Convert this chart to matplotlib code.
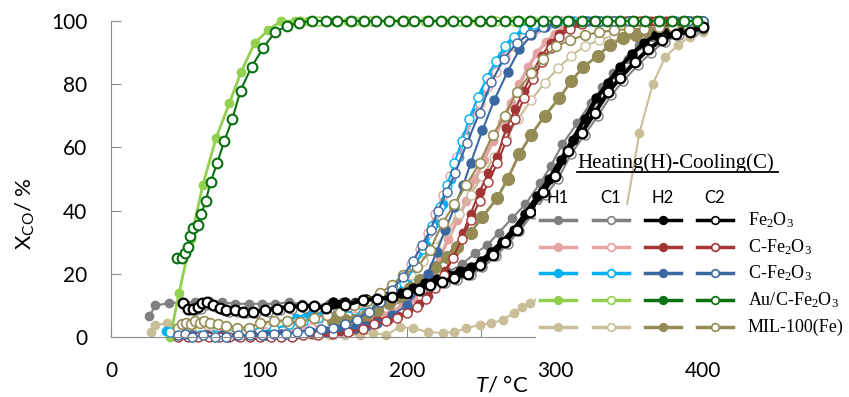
import matplotlib
matplotlib.use('Agg')
import matplotlib.pyplot as plt
from matplotlib.lines import Line2D
from matplotlib.patches import Rectangle

plt.rcParams['font.family'] = ['Lato', 'DejaVu Sans']
plt.rcParams['mathtext.fontset'] = 'custom'
plt.rcParams['mathtext.rm'] = 'Lato'
plt.rcParams['mathtext.it'] = 'Lato:italic'

# ---- Fe2O3 ----
fe_h1_T = [26, 30, 39, 48, 57, 66, 75, 84, 93, 102, 111, 120, 129, 138, 147, 156, 165, 174, 183, 192, 201,
           210, 219, 228, 237, 246, 254, 262, 271, 280, 290, 297, 305, 315, 324, 332, 339, 349, 357, 366,
           374, 382, 391, 400]
fe_h1_X = [6.7, 10, 10.7, 11, 11, 11.5, 11, 10.5, 10.5, 10.5, 10.5, 11, 10.5, 10, 10.5, 11, 11, 11.5, 12,
           13, 14.5, 16, 18, 20.5, 23, 26.5, 29, 33, 37.6, 42, 48.7, 54, 61, 67.7, 74, 79, 83.5, 88, 92.4,
           95, 97, 98.5, 99.5, 100]
fe_c1_T = [50, 54, 57.5, 61, 64, 67, 71, 76, 80, 86, 91, 98, 106, 114, 122, 131, 139, 147, 160, 172, 182,
           192, 202, 210, 217.5, 225.5, 234, 243, 251, 260, 268, 276, 285, 294, 302, 311, 320, 329, 338, 346,
           356, 365, 374, 384, 393, 400]
fe_c1_X = [10, 8.5, 8.5, 9, 10, 10.5, 9.5, 8.5, 8, 8, 7.5, 7.5, 8, 8.5, 9, 9.3, 9.3, 8.7, 9.5, 11, 11.5,
           12, 13.5, 14.5, 16, 17, 18, 19.5, 22, 25.5, 29.5, 33.5, 39, 45, 50, 58, 64, 70, 76.5, 81, 86,
           90, 93.5, 95.5, 96.5, 97.5]
fe_h2_T = [150, 158, 165, 172, 180, 188, 196, 204, 212, 220, 228, 236, 243, 250, 257, 264, 272, 280, 288,
           296, 304, 312, 320, 328, 336, 344, 352, 360, 368, 376, 384, 392, 400]
fe_h2_X = [11, 11, 10.7, 12, 12.5, 13, 14, 15.5, 17, 18.5, 19.5, 21, 22, 24, 27, 30, 34, 39, 44.5, 50, 56,
           62.5, 69, 75.5, 80.5, 85.5, 89.5, 93, 95.5, 97, 97.5, 98, 99]
fe_c2_T = [48.5, 52, 55.6, 59, 61.4, 64.7, 69, 73.6, 78, 84, 89, 96, 104, 112, 120, 129, 137, 145, 158, 170,
           180, 190, 200, 208, 215.5, 223.6, 232, 241, 249, 258, 266, 274, 283, 292, 300, 309, 318, 327, 336,
           344, 354, 363, 372, 382, 391, 400]
fe_c2_X = [10.8, 9, 9, 9.6, 10.7, 11.2, 10, 9.1, 8.5, 8.5, 8, 8, 8.5, 9, 9.6, 9.8, 9.8, 9.1, 10, 11.7, 12,
           12.7, 14, 15, 16.5, 17.4, 18.7, 20, 22.8, 26, 30, 34, 39.6, 46, 51, 59, 64.6, 71, 77.5, 82, 87,
           91, 94, 96, 96.5, 98]

# ---- C-Fe2O3 (red) ----
cr_h1_T = [40, 50, 60, 70, 80, 90, 100, 110, 120, 130, 140, 150, 160, 168, 176, 183, 190, 197, 204, 210,
           216, 222, 228, 234, 240, 246, 252, 258, 264, 270, 276, 282, 288, 294, 300, 306, 313, 322, 332,
           342, 352, 362, 372, 382, 392, 400]
cr_h1_X = [1, 0.5, 0.5, 0.8, 0.5, 0.5, 0.8, 1, 1.5, 2, 2.5, 3, 4, 5, 6, 7, 8, 10, 12.5, 15.5, 20, 25, 31,
           37, 43, 50, 56, 62, 68, 74, 80, 85.5, 90, 93.5, 96, 98, 99.5, 100, 100, 100, 100, 100, 100, 100,
           100, 100]
cr_c1_T = [45, 55, 65, 75, 85, 95, 105, 115, 125, 135, 145, 155, 165, 175, 183, 190, 197, 203, 209, 214,
           219, 224, 229, 234, 239, 244, 249, 254, 260, 266, 272, 279, 287, 295, 305, 315, 325, 335, 345,
           355, 365, 375, 385, 395]
cr_c1_X = [0.5, 0.5, 0.8, 1, 1, 1.5, 1.5, 2, 2.5, 3, 4, 5, 6.5, 9, 12, 15, 19, 23, 28, 33, 39, 45, 51, 57,
           63, 69, 74, 79, 84, 88.5, 92, 95, 97.5, 99, 100, 100, 100, 100, 100, 100, 100, 100, 100, 100]
cr_h2_T = [45, 55, 65, 75, 85, 95, 105, 115, 125, 135, 145, 155, 165, 172, 180, 187, 194, 201, 208, 214,
           220, 226, 232, 238, 243, 249, 255, 261, 267, 273, 279, 285, 291, 297, 303, 309, 316, 325, 335,
           345, 355, 365, 375, 385, 395]
cr_h2_X = [0.5, 0.3, 0.5, 0.5, 0.3, 0.5, 0.5, 0.8, 1, 1, 1.5, 2, 2.5, 4, 5.4, 5.5, 6.5, 8.5, 10.5, 13, 17,
           21, 27, 33, 39, 46, 52, 57, 66, 72, 78, 84, 89, 93, 96, 98, 99.5, 100, 100, 100, 100, 100, 100,
           100, 100]
cr_c2_T = [45, 52, 59, 66, 73, 80, 87, 94, 101, 108, 115, 122, 130, 140, 150, 160, 170, 178, 186, 193, 200,
           207, 213, 219, 225, 231, 237, 243, 249, 255, 261, 267, 273, 279, 285, 291, 297, 303, 310, 318,
           328, 338, 348, 358, 368, 378, 388, 398]
cr_c2_X = [0, 0, 0, 0, 0, 0, 0, 0, 0, 0, 0, 0, 0.5, 0.5, 1, 1.5, 2.5, 4, 5, 6, 7.5, 9.5, 12, 15.5, 19.5, 25,
           31, 37, 43, 49, 55, 62, 69, 75.5, 81.5, 87, 91.5, 95, 97.5, 99, 100, 100, 100, 100, 100, 100,
           100, 100]

# ---- C-Fe2O3 (blue) ----
cb_h1_T = [37, 45, 55, 65, 75, 85, 95, 105, 115, 125, 133, 142, 150, 160, 170, 180, 190, 200, 207, 213,
           219, 224, 230, 235, 240, 246, 252, 258, 264, 270, 277, 284, 292, 300, 310, 320, 330, 340, 350,
           360, 370, 380, 390, 400]
cb_h1_X = [2, 1, 1, 0.5, 0.5, 1, 1.5, 2, 4, 6, 7.5, 7.5, 6.5, 7, 8, 10, 13, 18, 23, 29, 36, 42, 50, 57, 64,
           71, 78, 84, 89, 93, 96, 98.5, 100, 100, 100, 100, 100, 100, 100, 100, 100, 100, 100, 100]
cb_c1_T = [40, 50, 60, 70, 80, 90, 100, 110, 120, 130, 140, 150, 160, 170, 180, 190, 198, 205, 211, 217,
           222, 227, 232, 237, 242, 248, 254, 260, 266, 272, 279, 286, 294, 302, 312, 322, 332, 342, 352,
           362, 372, 382, 392, 400]
cb_c1_X = [1.5, 1, 0.5, 0.5, 1, 1, 1.5, 2.5, 4, 5, 6, 6, 6.5, 7.5, 9.5, 12.5, 17, 22, 28, 35, 41, 48, 55,
           62, 69, 76, 82, 87.5, 92, 95, 97.5, 99, 100, 100, 100, 100, 100, 100, 100, 100, 100, 100, 100,
           100]
cb_h2_T = [45, 55, 65, 75, 85, 95, 105, 115, 125, 135, 145, 155, 165, 172, 180, 190, 200, 208, 214, 220,
           226, 232, 238, 243, 251, 259, 268, 276, 284, 293, 300, 310, 320, 330, 340, 350, 360, 370, 380,
           390, 400]
cb_h2_X = [1, 0.5, 0.5, 0.5, 0.5, 0.5, 0.5, 1, 1, 1.5, 2, 2.5, 3, 3.5, 4.5, 7, 10, 15, 20, 27, 34, 41, 48,
           55, 65.5, 75, 84, 91, 95.6, 98, 99.5, 100, 100, 100, 100, 100, 100, 100, 100, 100, 100]
cb_c2_T = [45, 50, 55, 62, 70, 78, 86, 94, 102, 110, 118, 126, 134, 142, 150, 158, 166, 174, 182, 190,
           197, 204, 210, 216, 221, 227, 232.5, 240.5, 249, 257, 265.5, 274, 283, 292, 300, 310, 320, 330,
           340, 350, 360, 370, 380, 390, 400]
cb_c2_X = [0.5, 1, 0, 0.5, 0, 0, 0.5, 0.5, 0.5, 1, 1, 1.5, 2, 2.5, 3, 4, 5.5, 8, 11, 15, 19, 24, 29, 34,
           40, 46, 52, 61.4, 71, 80.7, 88, 93, 96, 98, 99.5, 100, 100, 100, 100, 100, 100, 100, 100, 100,
           100]

# ---- Au/C-Fe2O3 ----
au_h1_T = [40, 46, 54, 62, 71, 80, 88, 97, 106, 115, 124, 133, 142, 151, 160, 169, 178, 187, 196, 205,
           214, 223, 232, 241, 250, 259, 268, 277, 286, 295, 304, 313, 322, 331, 340, 349, 358, 367, 376,
           385, 394, 400]
au_h1_X = [0, 14, 31, 48, 63, 74, 84, 93, 97, 100, 100, 100, 100, 100, 100, 100, 100, 100, 100, 100, 100,
           100, 100, 100, 100, 100, 100, 100, 100, 100, 100, 100, 100, 100, 100, 100, 100, 100, 100, 100,
           100, 100]
au_top_T = [136, 145, 153, 162, 171, 179, 188, 197, 205, 214, 223, 231, 240, 249, 257, 266, 275, 283, 292,
            301, 309, 318, 327, 335, 344, 353, 361, 370, 379, 387, 396]
au_top_X = [100, 100, 100, 100, 100, 100, 100, 100, 100, 100, 100, 100, 100, 100, 100, 100, 100, 100, 100,
            100, 100, 100, 100, 100, 100, 100, 100, 100, 100, 100, 100]
au_c1_T = [128, 140, 152, 164, 176, 188, 200, 212, 224, 236, 248, 260, 272, 284, 296, 308, 320, 332, 344,
           356, 368, 380, 392, 400]
au_c1_X = [100, 100, 100, 100, 100, 100, 100, 100, 100, 100, 100, 100, 100, 100, 100, 100, 100, 100, 100,
           100, 100, 100, 100, 100]
au_c2_rise_T = [44.5, 48, 50, 52, 53.5, 55.6, 58.5, 61, 64, 67.3, 71.7, 76.6, 82, 87.5, 95, 103, 111, 119,
                127]
au_c2_rise_X = [25, 25, 26.5, 28.5, 32, 34.5, 35.5, 39, 43, 49, 55, 62, 69, 78, 85.5, 91.6, 96.6, 98.4,
                99.5]

# ---- MIL-100(Fe) ----
mil_h1_T = [27, 30, 38, 47, 56, 65, 74, 83, 92, 100, 107, 118, 128, 137, 148, 158, 168, 177, 186, 195,
            204, 214, 224, 232, 240, 249, 257, 265, 272, 278, 283, 290, 300, 310, 320, 330, 340, 348, 357,
            366, 374.5, 383, 391, 400]
mil_h1_X = [1.5, 3.8, 4.4, 2.5, 3, 2.5, 2.2, 2, 2.2, 1.5, 1.3, 0.6, 1.6, 0.6, 0.6, 0.6, 0.6, 1.3, 0.6, 3.2,
            2.8, 1.6, 1.3, 1.6, 2.8, 3.8, 4.4, 5.4, 7.6, 9.5, 10.7, 12.5, 15, 17, 20, 25, 31, 40, 64.5, 80,
            88.6, 92.4, 95, 96.5]
mil_c1_T = [45, 50, 55, 60, 66, 72, 80, 88, 96, 105, 115, 125, 135, 145, 155, 165, 175, 185, 195, 203,
            211, 219, 227, 235, 243, 251, 259, 267, 275, 284, 293, 302, 311, 320, 330, 340, 350, 360, 370,
            380, 390, 400]
mil_c1_X = [2, 3, 3.5, 3, 3.5, 3, 2.5, 2, 2.5, 3, 4, 4.5, 5, 6, 7, 8.5, 10.5, 13, 16, 19.5, 24, 28.5,
            33.5, 39, 45, 51, 57, 63, 69, 75, 80.5, 85, 89, 92, 94, 95.5, 96, 96.5, 97, 97, 97.5, 97.5]
mil_h2_T = [150, 158, 165, 172, 180, 188, 195, 202, 209, 219, 227, 234, 243, 251, 261, 268, 276, 284, 293,
            303, 311, 319, 329, 337, 346, 355, 363, 372, 381, 391, 398]
mil_h2_X = [5, 5.4, 5.4, 7, 8.5, 10.8, 13, 15.5, 18, 22, 25.3, 28.5, 33, 38, 44, 50, 58, 64, 70, 75.6, 81,
            85.4, 89, 92.4, 94.6, 95.6, 96.5, 98.7, 98.7, 99.7, 99.7]
mil_c2_T = [45, 48, 51, 54, 57, 60, 63, 67, 72, 78, 85, 93, 101, 110, 119, 128, 137, 146, 155, 164, 173,
            182, 190, 197, 207, 215.5, 224, 232, 240, 249, 258, 266, 274, 284, 292, 301, 310, 320, 330, 340,
            350, 360, 370, 380, 390, 400]
mil_c2_X = [3, 4, 4.5, 4, 5, 4.5, 5, 4.5, 4, 3.5, 3, 3, 4.5, 5, 5, 4.7, 6, 7, 8, 10, 11.5, 14, 16.5, 19.6,
            22, 27.5, 36, 42, 48, 55, 64, 70, 77.5, 83.5, 88, 92, 94, 95.5, 96.5, 97, 97.5, 97.5, 98, 98,
            98.5, 98.5]

x_ticks = [0, 50, 100, 150, 200, 250, 300, 350, 400]
x_ticklabels = ['0', '', '100', '', '200', '', '300', '', '400']
y_ticks = [0, 20, 40, 60, 80, 100]
row_labels = ['Fe$_\\mathregular{2}$O$_\\mathregular{3}$',
              'C-Fe$_\\mathregular{2}$O$_\\mathregular{3}$',
              'C-Fe$_\\mathregular{2}$O$_\\mathregular{3}$',
              'Au/C-Fe$_\\mathregular{2}$O$_\\mathregular{3}$',
              'MIL-100(Fe)']
col_labels = ['H1', 'C1', 'H2', 'C2']

# colours: (light, dark) per material
colors = {
    'fe': ('#808080', '#000000'),
    'cr': ('#E6A3A3', '#A33535'),
    'cb': ('#00B0F0', '#3B68A2'),
    'au': ('#92D050', '#0A7010'),
    'mil': ('#C9BE98', '#958B55'),
}

fig = plt.figure(figsize=(8.49, 3.97), dpi=100)
ax = fig.add_axes([111 / 849, 1 - 337 / 397, 592 / 849, 316 / 397])


def curve(T, X, color, filled, ms=6, lw=1.5, mew=1.0):
    ax.plot(T, X, '-o', color=color, lw=lw, ms=ms, mfc=color if filled else 'white',
            mec=color, mew=mew, clip_on=False)


# H1
curve(mil_h1_T, mil_h1_X, colors['mil'][0], True)
curve(fe_h1_T, fe_h1_X, colors['fe'][0], True)
curve(cr_h1_T, cr_h1_X, colors['cr'][0], True, lw=2.5)
curve(cb_h1_T, cb_h1_X, colors['cb'][0], True)
curve(au_h1_T, au_h1_X, colors['au'][0], True, lw=2)
# C1
curve(mil_c1_T, mil_c1_X, colors['mil'][0], False, ms=6.5)
curve(fe_c1_T, fe_c1_X, colors['fe'][0], False, ms=6.5)
curve(cr_c1_T, cr_c1_X, colors['cr'][0], False, ms=6.5)
curve(cb_c1_T, cb_c1_X, colors['cb'][0], False, ms=6.5)
curve(au_c1_T, au_c1_X, colors['au'][0], False, ms=6.5)
# H2
curve(cr_h2_T, cr_h2_X, colors['cr'][1], True)
curve(mil_h2_T, mil_h2_X, colors['mil'][1], True, ms=8.5, lw=2)
curve(cb_h2_T, cb_h2_X, colors['cb'][1], True, ms=6.5)
curve(fe_h2_T, fe_h2_X, colors['fe'][1], True, ms=6.5, lw=3)
curve(au_top_T, au_top_X, colors['au'][1], True)
# C2
curve(cr_c2_T, cr_c2_X, colors['cr'][1], False, ms=6.5)
curve(mil_c2_T, mil_c2_X, colors['mil'][1], False, ms=7, mew=1.2)
curve(cb_c2_T, cb_c2_X, colors['cb'][1], False, ms=6.5)
curve(fe_c2_T, fe_c2_X, colors['fe'][1], False, ms=7, lw=3, mew=1.6)
curve(au_c2_rise_T + au_top_T, au_c2_rise_X + au_top_X, colors['au'][1], False, ms=7, mew=1.5)

ax.set_xlim(0, 400)
ax.set_ylim(0, 100)
ax.set_xticks(x_ticks)
ax.set_xticklabels(x_ticklabels)
ax.set_yticks(y_ticks)
for s in ['top', 'right']:
    ax.spines[s].set_visible(False)
for s in ['left', 'bottom']:
    ax.spines[s].set_color('#8c8c8c')
ax.tick_params(direction='in', length=7, color='#8c8c8c', labelsize=15)
ax.tick_params(axis='x', pad=17)
ax.tick_params(axis='y', pad=17)
ax.set_ylabel('X$_\\mathregular{CO}$/ %', fontsize=16)
ax.yaxis.set_label_coords(-0.125, 0.39)
ax.set_xlabel('$T$/ °C', fontsize=16)
ax.xaxis.set_label_coords(0.66, -0.12)


# ---- custom legend (figure pixels, top-left origin) ----
def fxy(px, py):
    return px / 849, 1 - py / 397


x0, y0 = fxy(536, 342)
x1, y1 = fxy(849, 205)
fig.add_artist(Rectangle((x0, y0), x1 - x0, y1 - y0, transform=fig.transFigure,
                         facecolor='white', edgecolor='none', zorder=5))

hx, hy = fxy(577, 163)
fig.text(hx, hy, 'Heating(H)-Cooling(C)', family='Liberation Serif', fontsize=15,
         va='center', ha='left', zorder=7)
ux0, uy = fxy(577, 172)
ux1, _ = fxy(778, 172)
fig.add_artist(Line2D([ux0, ux1], [uy, uy], transform=fig.transFigure, color='black', lw=1.3, zorder=7))

col_x = [558, 611, 663, 715]
row_y = [220, 247, 273, 300, 327]
keys = ['fe', 'cr', 'cb', 'au', 'mil']
for cx, lab in zip(col_x, col_labels):
    tx, ty = fxy(cx, 198)
    fig.text(tx, ty, lab, fontsize=12, ha='center', va='center', zorder=7)
for ry, key, lab in zip(row_y, keys, row_labels):
    for j, cx in enumerate(col_x):
        c = colors[key][0] if j < 2 else colors[key][1]
        filled = j % 2 == 0
        lx0, ly = fxy(cx - 18, ry)
        lx1, _ = fxy(cx + 18, ry)
        mx, _ = fxy(cx, ry)
        fig.add_artist(Line2D([lx0, lx1], [ly, ly], transform=fig.transFigure, color=c,
                              lw=2.5, zorder=6))
        fig.add_artist(Line2D([mx], [ly], transform=fig.transFigure, marker='o', ms=5.5,
                              mfc=c if filled else 'white', mec=c, mew=1.2, ls='none', zorder=6))
    tx, ty = fxy(748, ry)
    fig.text(tx, ty, lab, family='Liberation Serif', fontsize=13, ha='left', va='center', zorder=7)

fig.savefig('out.png', dpi=100)
